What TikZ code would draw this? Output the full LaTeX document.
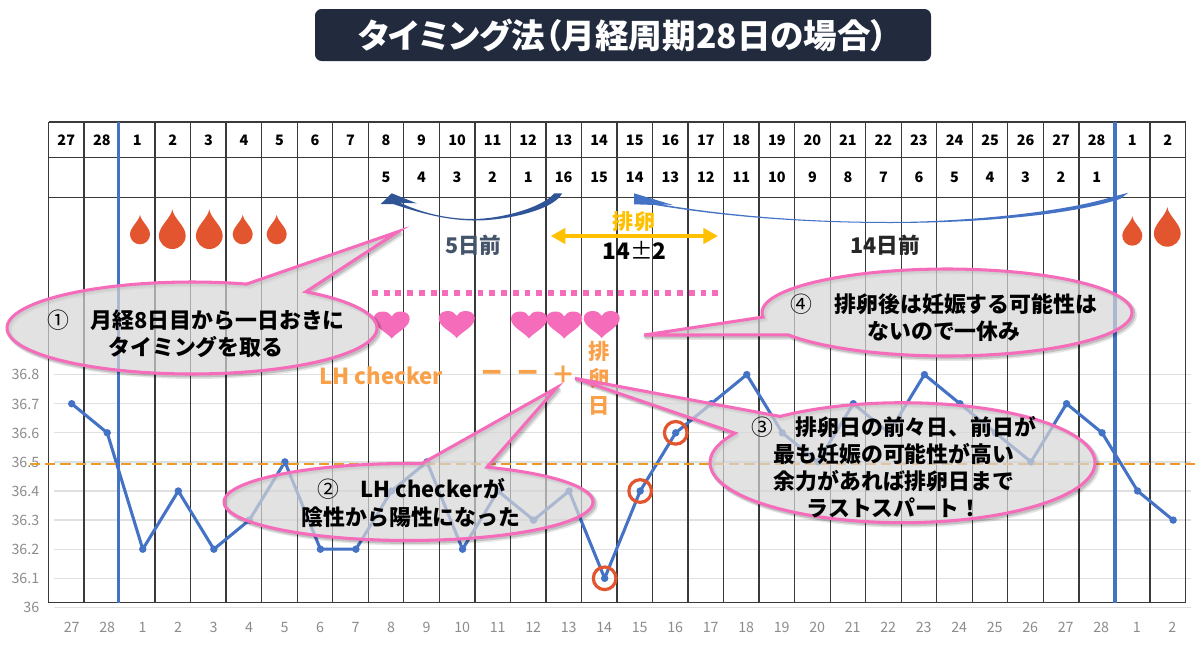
\documentclass[tikz,border=0pt]{standalone}
\usepackage{fontspec}
\setmainfont{Noto Sans CJK JP}
\newfontfamily\titlefont[RawFeature=+palt]{Noto Sans CJK JP}
\usetikzlibrary{arrows.meta}
\definecolor{gridc}{HTML}{E0E0E0}
\definecolor{vline}{HTML}{3A3A3A}
\definecolor{bluec}{HTML}{4472C4}
\definecolor{bluedk}{HTML}{2F5597}
\definecolor{pinkc}{HTML}{F56CBB}
\definecolor{redc}{HTML}{E2552E}
\definecolor{yelc}{HTML}{FFC000}
\definecolor{orgc}{HTML}{F9A04A}
\definecolor{dashc}{HTML}{EE9A2B}
\definecolor{navy}{HTML}{44546A}
\definecolor{titlec}{HTML}{212B3D}
\definecolor{axisc}{HTML}{8C8C8C}
\definecolor{balloon}{HTML}{D6D6D6}
\tikzset{
  x=0.75pt,y=-0.75pt,
  grid/.style={gridc,line width=0.95pt},
  tableline/.style={vline,line width=1pt},
  cyclebar/.style={bluec,line width=2.4pt},
  tempcurve/.style={bluec,line width=2.3pt,line join=round},
  tempdot/.style={circle,fill=bluec,inner sep=0pt,minimum size=5.6pt},
  ring/.style={circle,draw=redc,line width=2.4pt,inner sep=0pt,minimum size=17pt},
  headlabel/.style={font=\fontsize{10.8}{12}\selectfont\bfseries,inner sep=0pt,text height=8pt,text depth=0pt},
  axislabel/.style={font=\fontsize{10.7}{12}\selectfont,text=axisc,inner sep=0pt,text height=8pt,text depth=0pt},
  balloontext/.style={font=\fontsize{16.4}{20.3}\selectfont\bfseries,align=center,inner sep=0pt,text=black},
}
\newcommand{\pinkballoon}[8]{%
  \foreach \off/\wd/\op in {2.6/3.6pt/0.10,1.6/2.8pt/0.16}{%
    \draw[black,opacity=\op,line width=\wd,line join=round,shift={(\off,\off)}]
      plot[domain=#5:#6,samples=100] ({#1+#3*cos(\x)},{#2-#4*sin(\x)}) -- (#7,#8) -- cycle;
  }%
  \path[fill=balloon,fill opacity=0.71]
    plot[domain=#5:#6,samples=100] ({#1+#3*cos(\x)},{#2-#4*sin(\x)}) -- (#7,#8) -- cycle;
  \draw[pinkc,line width=2.3pt,line join=miter]
    plot[domain=#5:#6,samples=100] ({#1+#3*cos(\x)},{#2-#4*sin(\x)}) -- (#7,#8) -- cycle;
}
\newcommand{\blooddrop}[3]{%
  \fill[redc,shift={(#1,#2)},scale=#3] (0,-2.95) .. controls (.1,-2.3) and (1,-1.7) .. (1,-1)
    .. controls (1,-.45) and (.55,0) .. (0,0) .. controls (-.55,0) and (-1,-.45) .. (-1,-1)
    .. controls (-1,-1.7) and (-.1,-2.3) .. cycle;
}
\newcommand{\heartshape}[2]{%
  \fill[pinkc,shift={(#1,#2)},xscale=36,yscale=27] (0,1) .. controls (.14,.76) and (.5,.58) .. (.5,.27)
    .. controls (.5,.08) and (.37,0) .. (.25,0) .. controls (.12,0) and (.04,.08) .. (0,.18)
    .. controls (-.04,.08) and (-.12,0) .. (-.25,0) .. controls (-.37,0) and (-.5,.08) .. (-.5,.27)
    .. controls (-.5,.58) and (-.14,.76) .. cycle;
}
\begin{document}
\begin{tikzpicture}
\useasboundingbox (0,0) rectangle (1200,650);
% horizontal grid of the chart
\foreach \v [count=\n from 1] in {1,...,8}{
  \coordinate (gl\n) at (54,{607.4-29.1*\v});
  \coordinate (gr\n) at (1190.5,{607.4-29.1*\v});
  \draw[grid] (gl\n) -- (gr\n);
}
\coordinate (axl) at (54,607.6); \coordinate (axr) at (1190.5,607.6);
\draw[grid,line width=1.2pt] (axl) -- (axr);
% table
\foreach \i in {0,...,32}{
  \coordinate (vt\i) at ({48.5+35.53*\i},122);
  \coordinate (vb\i) at ({48.5+35.53*\i},602.7);
  \draw[tableline] (vt\i) -- (vb\i);
}
\foreach \yy/\nm in {122/a,157.7/b,197.3/c,602.7/d}{
  \coordinate (hl\nm) at (48.5,\yy); \coordinate (hr\nm) at (1185.6,\yy);
  \draw[tableline] (hl\nm) -- (hr\nm);
}
% header rows
\foreach \t [count=\i from 0] in {27,28,1,2,3,4,5,6,7,8,9,10,11,12,13,14,15,16,17,18,19,20,21,22,23,24,25,26,27,28,1,2}{
  \node[headlabel] (hd\i) at ({48.5+35.53*(\i+.5)},140) {\t};
  \node[axislabel] (xl\i) at ({71.7+35.5*\i},626.7) {\t};
}
\foreach \t [count=\i from 9] in {5,4,3,2,1,16,15,14,13,12,11,10,9,8,7,6,5,4,3,2,1}{
  \node[headlabel] (rb\i) at ({48.5+35.53*(\i+.5)},177) {\t};
}
% y axis labels
\foreach \t/\v in {36.8/8,36.7/7,36.6/6,36.5/5,36.4/4,36.3/3,36.2/2,36.1/1,36/0}{
  \node[axislabel,anchor=east] (yl\v) at (39.5,{607.4-29.1*\v}) {\t};
}
% cycle bars
\coordinate (ba) at (118.7,122); \coordinate (bb) at (118.7,602.7);
\coordinate (bc) at (1115,122); \coordinate (bd) at (1115,602.7);
\draw[cyclebar] (ba) -- (bb);
\draw[cyclebar] (bc) -- (bd);
% temperature curve
\foreach \v [count=\i from 0] in {7,6,2,4,2,3,5,2,2,4,5,2,4,3,4,1,4,6,7,8,6,5,7,6,8,7,6,5,7,6,4,3}{
  \coordinate (p\i) at ({71.7+35.53*\i},{607.4-29.1*\v});
}
\draw[tempcurve] (p0) foreach \i in {1,...,31}{ -- (p\i) };
\foreach \i in {0,...,31}{ \node[tempdot] (d\i) at (p\i) {}; }
% coverline
\coordinate (da) at (30,464); \coordinate (db) at (1198,464);
\draw[dashc,line width=2pt,dash pattern=on 7.6pt off 3.8pt] (da) -- (db);
% rings
\node[ring] (r14) at (p15) {};
\node[ring] (r15) at (p16) {};
\node[ring] (r16) at (p17) {};
% drops
\blooddrop{140}{244.3}{10}
\blooddrop{172.3}{249}{13.4}
\blooddrop{209.3}{249}{13.4}
\blooddrop{242.7}{244.3}{10}
\blooddrop{276.7}{244.3}{10}
\blooddrop{1132.3}{245.7}{10}
\blooddrop{1167.3}{246.7}{13.4}
% curved arrows
\fill[bluedk] (562.3,193.3) .. controls (552,212) and (500,221) .. (473,220.5)
  .. controls (445,220) and (420,213) .. (393,204) -- (380.7,204) -- (391.7,193.3) -- (416.7,203.3) -- (400,202.7)
  .. controls (420,212) and (445,219) .. (473,219) .. controls (500,219) and (542,208) .. (554.3,193.3) -- cycle;
\fill[bluec] (1128.3,192.7) -- (1120,199) .. controls (1060,218) and (960,223) .. (890,223)
  .. controls (800,223) and (720,216) .. (655,205) -- (634,204.3) -- (634,193.3) -- (673,205) -- (660,204.2)
  .. controls (720,214.5) and (800,222) .. (890,222) .. controls (960,222) and (1060,213) .. (1112,197) -- cycle;
% ovulation window
\coordinate (wa) at (550.7,236); \coordinate (wb) at (718,236);
\draw[yelc,line width=3.3pt,{Triangle[length=11pt,width=11.5pt]}-{Triangle[length=11pt,width=11.5pt]}] (wa) -- (wb);
\node[font=\fontsize{15.8}{18}\selectfont\bfseries,text=yelc,inner sep=0pt] (ovl) at (634,221.5) {排卵};
\node[font=\fontsize{17}{19}\selectfont,inner sep=0pt] (ovn) at (634.5,250.7) {{\bfseries 14}±{\bfseries 2}};
\node[font=\fontsize{16.2}{18}\selectfont\bfseries,text=navy,inner sep=0pt] (five) at (473.3,245) {5日前};
\node[font=\fontsize{16.2}{18}\selectfont\bfseries,text=black!85,inner sep=0pt] (fourteen) at (885,245) {14日前};
% timing line and hearts
\coordinate (ta) at (372,293); \coordinate (tb) at (718,293);
\draw[pinkc,line width=3.8pt,dash pattern=on 4.4pt off 4.4pt] (ta) -- (tb);
\heartshape{391.7}{311.5}
\heartshape{456.7}{311}
\heartshape{529}{311.5}
\heartshape{564.3}{311.5}
\heartshape{601.7}{311}
% LH labels
\node[font=\fontsize{16.6}{18}\selectfont\bfseries,text=orgc,inner sep=0pt] (lh) at (381,376) {LH checker};
\node[font=\fontsize{16}{18}\selectfont\bfseries,text=orgc,inner sep=0pt] (m1) at (491.7,375) {ー};
\node[font=\fontsize{16}{18}\selectfont\bfseries,text=orgc,inner sep=0pt] (m2) at (528,375) {ー};
\node[font=\fontsize{18}{18}\selectfont\bfseries,text=orgc,inner sep=0pt] (pl) at (563,375) {＋};
\node[font=\fontsize{16}{20.2}\selectfont\bfseries,text=orgc,inner sep=0pt,align=center] (od) at (599,378.5) {排\\卵\\日};
% balloons
\pinkballoon{192}{328}{185}{46}{72.8}{412}{398}{231.7}
\pinkballoon{947}{312.5}{185}{43.5}{211}{546}{644}{335}
\pinkballoon{408.5}{502}{184.5}{38.5}{85.9}{424.8}{556.7}{387.7}
\pinkballoon{902.5}{462.7}{192.5}{60}{150.5}{489.5}{575}{378.3}
\node[balloontext] (t1) at (196,334) {{\mdseries ①}　月経8日目から一日おきに\\タイミングを取る};
\node[balloontext] (t4) at (944,318) {{\mdseries ④}　排卵後は妊娠する可能性は\\ないので一休み};
\node[balloontext] (t2) at (411,503) {{\mdseries ②}　LH checkerが\\陰性から陽性になった};
\node[balloontext] (t3) at (894,467) {{\mdseries ③}　排卵日の前々日、前日が\\最も妊娠の可能性が高い\\余力があれば排卵日まで\\ラストスパート！};
% title
\node[fill=titlec,rounded corners=5pt,minimum width=462pt,minimum height=39pt,inner sep=0pt] (tb0) at (623,35) {};
\node[font=\titlefont\fontsize{25.2}{28}\selectfont\bfseries,text=white,inner sep=0pt] (title) at (623,35) {タイミング法（月経周期28日の場合）};
\end{tikzpicture}
\end{document}
